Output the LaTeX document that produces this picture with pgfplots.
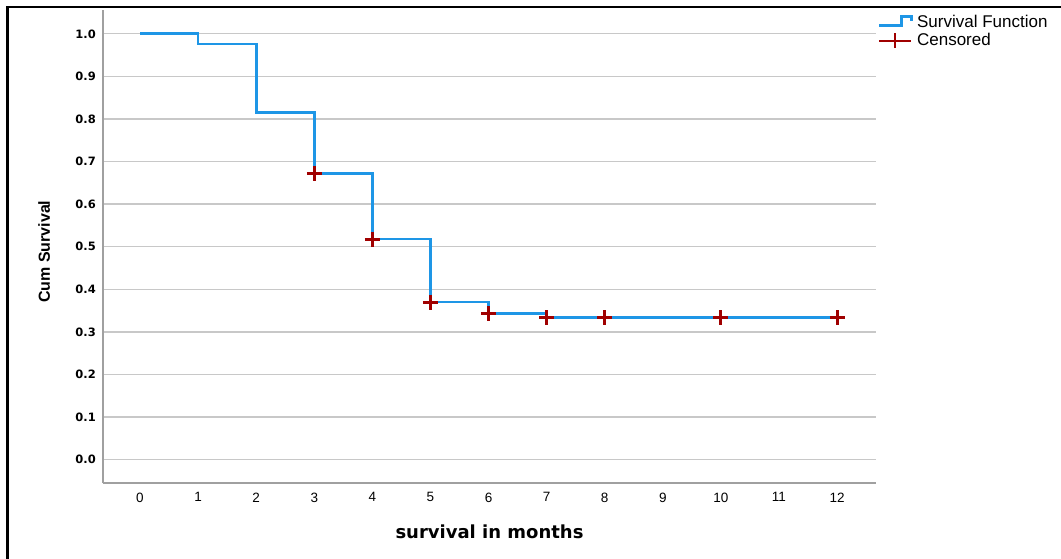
\documentclass[border=0pt]{standalone}
\usepackage{pgfplots}
\pgfplotsset{compat=1.18}
\usepackage{fontspec}
\setmainfont{Liberation Sans}
\newfontfamily\dejavu{DejaVu Sans}
\definecolor{kmblue}{RGB}{30,150,230}
\definecolor{kmred}{RGB}{160,0,0}
\definecolor{axgray}{RGB}{160,160,160}
\definecolor{gridgray}{RGB}{200,200,200}
\begin{document}
\begin{tikzpicture}
\useasboundingbox (-103bp,-76bp) rectangle (958bp,483bp);
\fill[white] (-103bp,-76bp) rectangle (958bp,483bp);
\draw[black, line width=2.5bp] (-95.5bp,-80bp) -- (-95.5bp,476bp) -- (965bp,476bp);
\begin{axis}[
  at={(0,0)}, anchor=south west,
  scale only axis,
  width=773bp, height=473bp,
  xmin=-0.637, xmax=12.67,
  ymin=-0.055, ymax=1.056,
  axis lines=left,
  axis line style={-, draw=axgray, line width=1.8bp},
  major tick length=0pt,
  xtick={0,1,2,3,4,5,6,7,8,9,10,11,12},
  ytick={0,0.1,0.2,0.3,0.4,0.5,0.6,0.7,0.8,0.9,1.0},
  ymajorgrids,
  grid style={draw=gridgray, line width=1.3bp},
  /pgf/number format/assume math mode=true,
  yticklabel style={font=\dejavu\bfseries\fontsize{11.5bp}{13bp}\selectfont, inner sep=0pt, xshift=-7bp,
    /pgf/number format/.cd, fixed, fixed zerofill, precision=1},
  xticklabel style={font=\fontsize{13.5bp}{16bp}\selectfont, inner sep=0pt, yshift=-9.5bp},
  xlabel={survival in months},
  ylabel={Cum Survival},
  xlabel style={font=\dejavu\bfseries\fontsize{18bp}{21bp}\selectfont, at={(axis description cs:0.5,0)}, anchor=base, yshift=-55bp},
  ylabel style={font=\bfseries\fontsize{16bp}{19bp}\selectfont, at={(axis description cs:-0.0686,0.489)}, anchor=base},
  legend style={at={(axis description cs:1,1)}, anchor=north west, xshift=2bp, yshift=-3bp,
    draw=none, fill=none, font=\fontsize{17bp}{19bp}\selectfont,
    inner sep=0pt, row sep=2bp, column sep=3bp,
    nodes={inner sep=1.5bp}},
  legend cell align=left,
  clip=false,
]
\addplot[const plot, color=kmblue, line width=2.8bp,
  legend image code/.code={\draw[kmblue, line width=2.4bp] (0bp,-4bp) -- (22bp,-4bp) -- (22bp,5bp) -- (32bp,5bp) -- (32bp,1bp);}]
  coordinates {(0,1.0) (1,0.976) (2,0.816) (3,0.672) (4,0.518) (5,0.370) (6,0.343) (7,0.333) (12,0.333)};
\addlegendentry{Survival Function}
\addplot[only marks, mark=+, mark size=7.5bp, color=kmred, mark options={line width=3bp},
  legend image code/.code={\draw[kmred, line width=2bp] (0bp,0bp) -- (32bp,0bp) (16bp,-7.5bp) -- (16bp,7.5bp);}]
  coordinates {(3,0.672) (4,0.518) (5,0.370) (6,0.343) (7,0.333) (8,0.333) (10,0.333) (12,0.333)};
\addlegendentry{Censored}
\end{axis}
\end{tikzpicture}
\end{document}
